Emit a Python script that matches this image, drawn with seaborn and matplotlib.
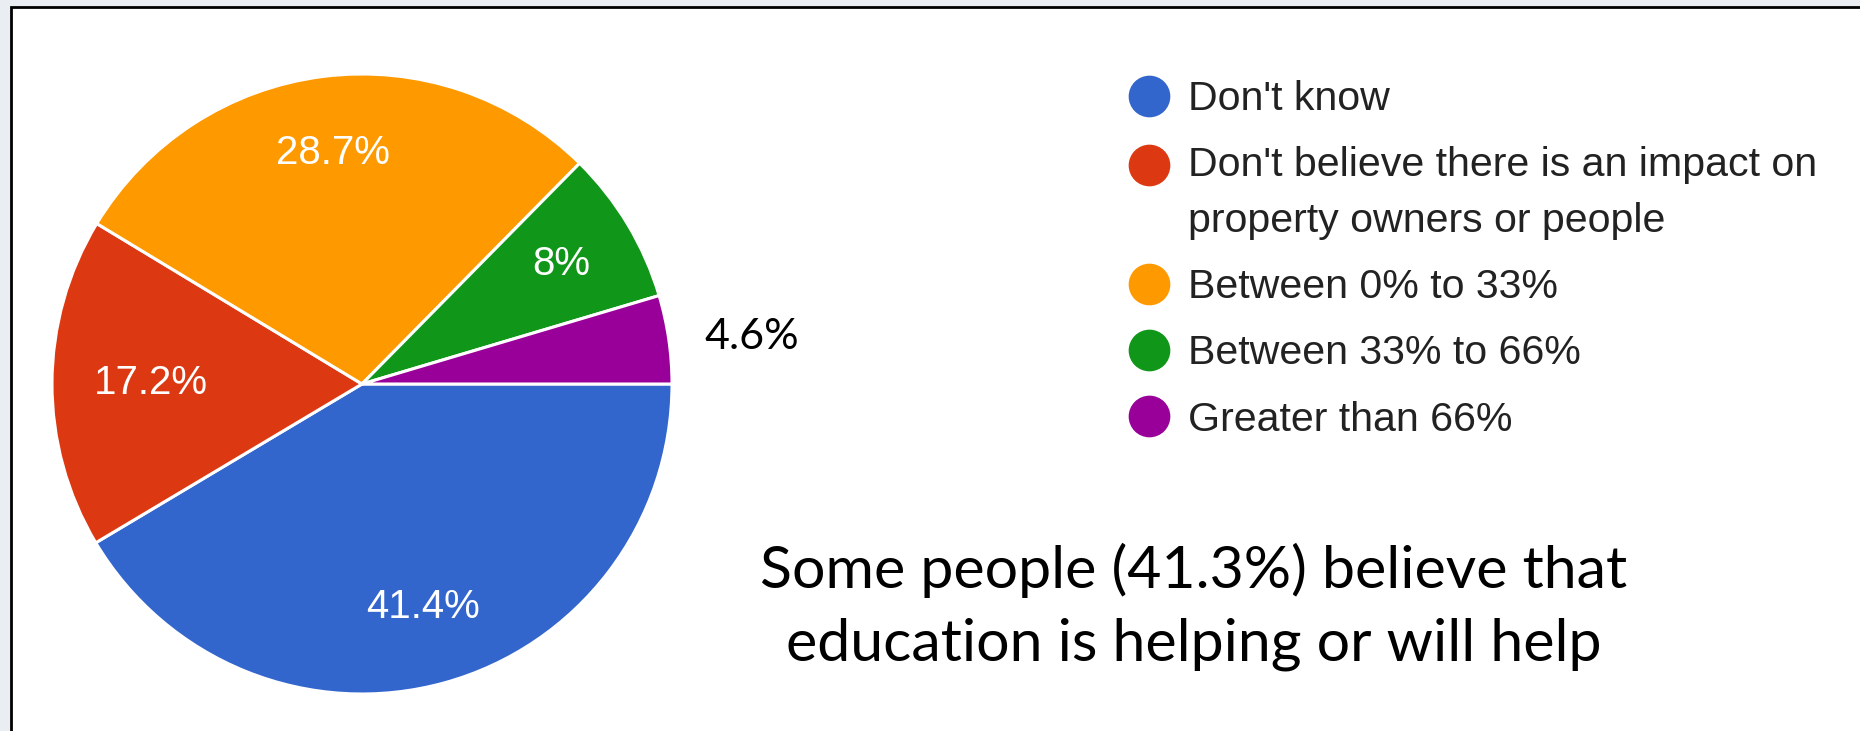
import matplotlib
matplotlib.use("Agg")
import matplotlib.pyplot as plt
import seaborn as sns
import numpy as np
from matplotlib.lines import Line2D
from matplotlib.patches import Rectangle
from matplotlib.legend_handler import HandlerLine2D

categories = ["Don't know",
              "Don't believe there is an impact on\nproperty owners or people",
              "Between 0% to 33%",
              "Between 33% to 66%",
              "Greater than 66%"]
values = [41.4, 17.2, 28.7, 8.0, 4.6]
value_labels = ["41.4%", "17.2%", "28.7%", "8%", "4.6%"]
caption = "Some people (41.3%) believe that\neducation is helping or will help"

colors = sns.color_palette(["#3366cc", "#dc3912", "#ff9900", "#109618", "#990099"])

sns.set_theme(style="white")
plt.rcParams['font.family'] = ['Liberation Sans', 'DejaVu Sans']

W, H = 1860, 731
fig = plt.figure(figsize=(W / 100, H / 100), dpi=100)
fig.patch.set_facecolor("#eaedf1")

# white panel with black frame
frame = Rectangle((11 / W, -0.1), 1.2, (H - 7) / H + 0.1, transform=fig.transFigure,
                  facecolor="white", edgecolor="black", linewidth=2.0, zorder=-5)
fig.patches.append(frame)

cx, cy, r = 362, 384, 310
ax = fig.add_axes([(cx - r) / W, (H - cy - r) / H, 2 * r / W, 2 * r / H])
ax.set_zorder(2)
ax.set_facecolor("none")
wedges, _ = ax.pie(values, colors=colors, startangle=0, counterclock=False,
                   radius=1.0, wedgeprops=dict(edgecolor="white", linewidth=2.2))
ax.set_xlim(-1, 1)
ax.set_ylim(-1, 1)
ax.set_aspect("equal")
ax.axis("off")

inside_dist = [0.745, 0.68, 0.75, 0.75, 0.75]
for w, lab, d, v in zip(wedges, value_labels, inside_dist, values):
    mid = np.deg2rad((w.theta1 + w.theta2) / 2)
    if v < 5:
        ax.text(1.27 * np.cos(mid), 1.27 * np.sin(mid) - 0.03, lab, ha="center", va="center",
                fontsize=31, color="black", family=["Lato", "DejaVu Sans"])
    else:
        ax.text(d * np.cos(mid), d * np.sin(mid), lab, ha="center", va="center",
                fontsize=29, color="white")


class FirstLineHandler(HandlerLine2D):
    def __init__(self, dy=0.0, **kw):
        super().__init__(**kw)
        self.dy = dy

    def create_artists(self, legend, orig_handle, xdescent, ydescent, width, height,
                       fontsize, trans):
        return super().create_artists(legend, orig_handle, xdescent, ydescent - 2 * self.dy,
                                      width, height, fontsize, trans)


handles = [Line2D([], [], marker="o", linestyle="none", markersize=29,
                  markerfacecolor=c, markeredgecolor=c) for c in colors]
handler_map = {handles[1]: FirstLineHandler(dy=21)}
leg = fig.legend(handles, categories, loc="upper left",
                 bbox_to_anchor=(1128 / W, 1 - 80 / H), frameon=False,
                 fontsize=29.6, handlelength=1.0, handletextpad=0.45,
                 labelspacing=0.69, borderpad=0, borderaxespad=0,
                 handler_map=handler_map)
for t in leg.get_texts():
    t.set_color("#222222")
    t.set_linespacing(1.58)

fig.text(1194 / W, 1 - 607 / H, caption, ha="center", va="center",
         fontsize=42.5, color="black", linespacing=1.44, family=["Lato", "DejaVu Sans"])

fig.savefig("out.png", dpi=100, facecolor=fig.get_facecolor())
